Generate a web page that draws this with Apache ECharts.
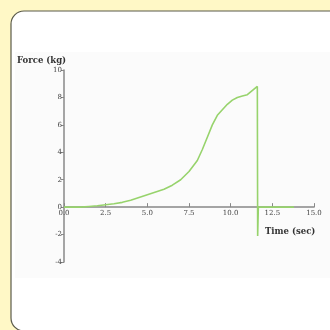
<!DOCTYPE html>
<html>
<head>
<meta charset="utf-8">
<script src="https://cdn.jsdelivr.net/npm/echarts@6/dist/echarts.min.js"></script>
<style>
html,body{margin:0;padding:0;background:#fff8c6;}
#chart{width:330px;height:330px;}
</style>
</head>
<body>
<div id="chart"></div>
<script>
// Force measured against time during a pull test
const timeSec = [0, 1.0, 1.5, 2.0, 2.5, 3.0, 3.5, 4.0, 4.5, 5.0, 5.5, 6.0, 6.5, 7.0, 7.5, 8.0, 8.3, 8.6, 8.9, 9.2, 9.5, 9.8, 10.1, 10.4, 10.7, 11.0, 11.2, 11.4, 11.6, 11.62, 11.66, 13.8];
const forceKg = [0, 0, 0.05, 0.1, 0.18, 0.25, 0.35, 0.5, 0.7, 0.9, 1.1, 1.3, 1.6, 2.0, 2.6, 3.4, 4.2, 5.1, 6.0, 6.7, 7.1, 7.5, 7.8, 8.0, 8.1, 8.2, 8.4, 8.6, 8.8, -2.1, 0, 0];
const yTicks = { min: -4, max: 10, step: 2 };
const xTicks = { min: 0, max: 15, step: 2.5 };

const points = timeSec.map((t, i) => [t, forceKg[i]]);
const serif = '"DejaVu Serif", "Liberation Serif", serif';

const gridTop = 70, gridBottom = 68, chartH = 330;
// place the time axis (with its labels) on the zero line
const plotH = chartH - gridTop - gridBottom;
const zeroOffset = -plotH * (0 - yTicks.min) / (yTicks.max - yTicks.min);

const chart = echarts.init(document.getElementById('chart'));
chart.setOption({
  animation: false,
  backgroundColor: '#fff8c6',
  graphic: [
    { type: 'rect', z: -10, shape: { x: 11, y: 11, width: 340, height: 320, r: 13 },
      style: { fill: '#ffffff', stroke: '#5a5a4a', lineWidth: 1.2 } },
    { type: 'rect', z: -9, shape: { x: 15, y: 52, width: 315, height: 226 },
      style: { fill: '#fbfbfb' } },
    { type: 'text', left: 17, top: 56,
      style: { text: 'Force (kg)', font: 'bold 8.5px ' + serif, fill: '#333' } },
    { type: 'text', left: 265, top: 227,
      style: { text: 'Time (sec)', font: 'bold 8.5px ' + serif, fill: '#333' } }
  ],
  grid: { left: 64, right: 16, top: gridTop, bottom: gridBottom },
  xAxis: {
    type: 'value', min: xTicks.min, max: xTicks.max, interval: xTicks.step,
    offset: zeroOffset,
    axisLine: { onZero: false, lineStyle: { color: '#888', width: 1.5 } },
    axisTick: { inside: true, length: 4, lineStyle: { color: '#888' } },
    splitLine: { show: false },
    axisLabel: { formatter: v => v.toFixed(1), fontFamily: serif, fontSize: 7, color: '#444', margin: 3 }
  },
  yAxis: {
    type: 'value', min: yTicks.min, max: yTicks.max, interval: yTicks.step,
    axisLine: { show: true, lineStyle: { color: '#888', width: 1.5 } },
    axisTick: { show: true, length: 3, lineStyle: { color: '#888' } },
    splitLine: { show: false },
    axisLabel: { fontFamily: serif, fontSize: 7, color: '#444', margin: 2 }
  },
  series: [{
    type: 'line',
    data: points,
    showSymbol: false,
    lineStyle: { color: '#97d36c', width: 1.6 },
    z: 3
  }]
});
</script>
</body>
</html>
